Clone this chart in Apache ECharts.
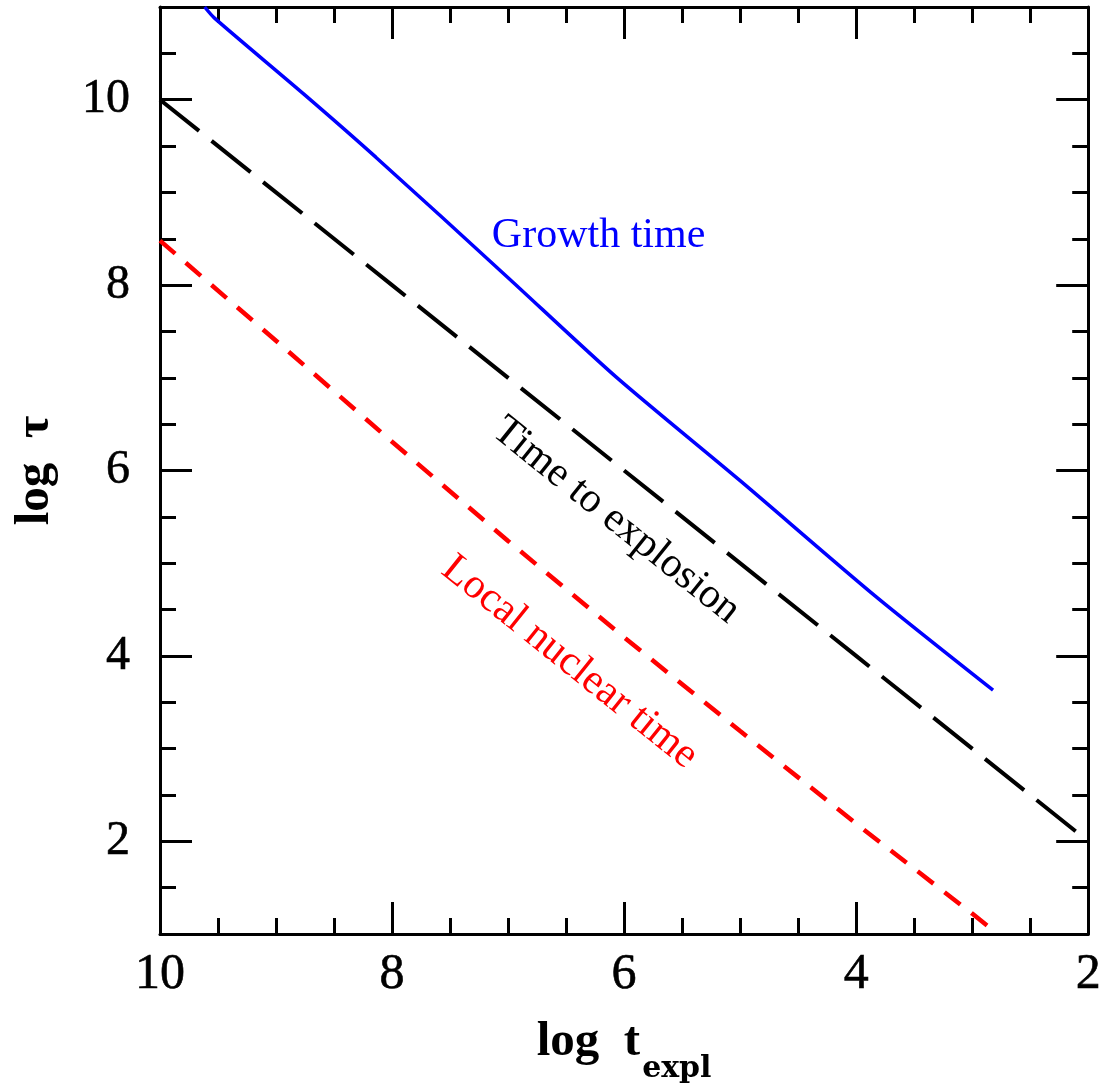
<!DOCTYPE html>
<html>
<head>
<meta charset="utf-8">
<script src="https://cdn.jsdelivr.net/npm/echarts@6/dist/echarts.min.js"></script>
<style>
  html, body { margin: 0; padding: 0; background: #ffffff; }
  #chart { width: 1104px; height: 1089px; }
</style>
</head>
<body>
<div id="chart"></div>
<script>
// Growth time (solid blue)
const growthX = [9.615, 9.53, 8.76, 8.14, 7.0, 6.07, 5.0, 3.84, 2.82];
const growthY = [11.0, 10.88, 10.06, 9.38, 8.08, 7.01, 5.89, 4.65, 3.63];

// Time to explosion (long-dashed black)
const explosionX = [10, 8, 6, 4, 2];
const explosionY = [10, 8, 6, 4, 2];

// Local nuclear time (short-dashed red)
const nuclearX = [10, 9, 8, 7, 6, 5, 4, 3, 2.82];
const nuclearY = [8.48, 7.40, 6.31, 5.24, 4.20, 3.19, 2.19, 1.22, 1.04];

// Axis ranges and labelled (major) tick values
const xRange = [2, 10];
const yRange = [1, 11];
const majorY = [2, 4, 6, 8, 10];

// Curve annotations: text, colour, anchor in data coordinates, rotated along the curves
const notes = [
  { text: 'Growth time', color: '#0000ff', at: [6.22, 8.53], rotate: 0 },
  { text: 'Time to explosion', color: '#000000', at: [6.07, 5.46], rotate: -38.7 },
  { text: 'Local nuclear time', color: '#ff0000', at: [6.47, 3.93], rotate: -38.7 }
];

const pairs = (xs, ys) => xs.map((x, i) => [x, ys[i]]);

const frame = { show: true, onZero: false, lineStyle: { color: '#000', width: 3 } };
const majorTick = { show: true, inside: true, length: 32, lineStyle: { color: '#000', width: 3 } };
const minorTick = { show: true, splitNumber: 4, length: 16, lineStyle: { color: '#000', width: 3 } };
const tickFont = {
  fontFamily: 'Liberation Serif', color: '#000',
  textBorderColor: '#000', textBorderWidth: 0.6
};
const nameFont = { fontFamily: 'Liberation Serif', fontWeight: 'bold', color: '#000' };

const xBase = {
  type: 'value', min: xRange[0], max: xRange[1], interval: 2, inverse: true,
  axisLine: frame, axisTick: majorTick, minorTick: minorTick,
  splitLine: { show: false }, minorSplitLine: { show: false }
};

const yMinor = {
  type: 'value', min: yRange[0], max: yRange[1], interval: 0.5,
  axisLine: frame,
  axisTick: { show: true, inside: true, length: 16, lineStyle: { color: '#000', width: 3 } },
  splitLine: { show: false }
};
const yMajor = {
  type: 'value', min: yRange[0], max: yRange[1],
  axisLine: { show: false },
  axisTick: { show: true, inside: true, length: 32, customValues: majorY, lineStyle: { color: '#000', width: 3 } },
  axisLabel: { show: false },
  splitLine: { show: false }
};

const chart = echarts.init(document.getElementById('chart'), null, { renderer: 'canvas' });

chart.setOption({
  animation: false,
  backgroundColor: '#ffffff',
  grid: { left: 160, top: 7, width: 935, height: 935, containLabel: false },
  xAxis: [
    Object.assign({}, xBase, {
      position: 'bottom',
      axisLabel: Object.assign({ margin: 16, fontSize: 50 }, tickFont),
      name: '{m|log  t}{s|expl}',
      nameLocation: 'middle',
      nameGap: 84,
      nameTextStyle: {
        rich: {
          m: Object.assign({ fontSize: 49, lineHeight: 49, verticalAlign: 'top' }, nameFont),
          s: { fontFamily: 'DejaVu Serif', fontWeight: 'bold', color: '#000', fontSize: 30,
               verticalAlign: 'top', padding: [36, 0, 0, 2] }
        }
      }
    }),
    Object.assign({}, xBase, { position: 'top', axisLabel: { show: false } })
  ],
  yAxis: [
    Object.assign({}, yMinor, {
      position: 'left',
      axisLabel: Object.assign({
        margin: 30, fontSize: 48,
        formatter: v => (majorY.indexOf(v) >= 0 ? String(v) : '')
      }, tickFont),
      name: 'log  τ',
      nameLocation: 'middle',
      nameRotate: 90,
      nameGap: 100,
      nameTextStyle: Object.assign({ fontSize: 49 }, nameFont)
    }),
    Object.assign({}, yMajor, { position: 'left' }),
    Object.assign({}, yMinor, { position: 'right', axisLabel: { show: false } }),
    Object.assign({}, yMajor, { position: 'right' })
  ],
  series: [
    {
      name: 'Growth time', type: 'line', xAxisIndex: 0, yAxisIndex: 0,
      data: pairs(growthX, growthY), showSymbol: false, clip: true, smooth: 0.25,
      lineStyle: { color: '#0000ff', width: 3.5 }
    },
    {
      name: 'Time to explosion', type: 'line', xAxisIndex: 0, yAxisIndex: 0,
      data: pairs(explosionX, explosionY), showSymbol: false, clip: true,
      lineStyle: { color: '#000000', width: 4, type: [50, 16] }
    },
    {
      name: 'Local nuclear time', type: 'line', xAxisIndex: 0, yAxisIndex: 0,
      data: pairs(nuclearX, nuclearY), showSymbol: false, clip: true,
      lineStyle: { color: '#ff0000', width: 4.5, type: [20, 14] }
    }
  ]
});

// Place the curve annotations at their data positions
chart.setOption({
  graphic: notes.map(n => {
    const p = chart.convertToPixel({ xAxisIndex: 0, yAxisIndex: 0 }, n.at);
    return {
      type: 'text',
      x: p[0], y: p[1],
      rotation: n.rotate * Math.PI / 180,
      style: {
        text: n.text,
        fill: n.color,
        font: '42px "Liberation Serif"',
        align: 'center',
        verticalAlign: 'middle'
      }
    };
  })
});
</script>
</body>
</html>
